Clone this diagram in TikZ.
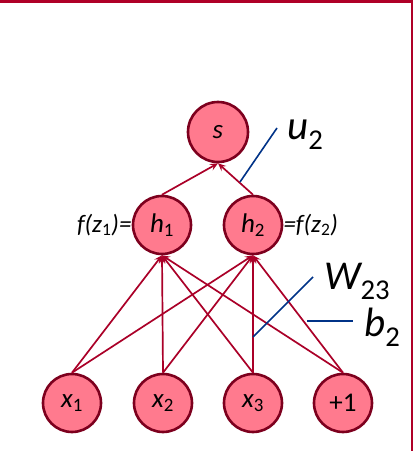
\documentclass[tikz,border=0pt]{standalone}
\usepackage{fontspec}
\setmainfont{Carlito}
\usetikzlibrary{arrows.meta}
\definecolor{nfill}{RGB}{255,122,142}
\definecolor{ndraw}{RGB}{125,0,30}
\definecolor{edgec}{RGB}{170,0,40}
\definecolor{framec}{RGB}{175,0,40}
\definecolor{bluec}{RGB}{0,50,135}
\tikzset{
  neuron/.style={circle, fill=nfill, draw=ndraw, line width=2.6pt, minimum size=58pt, inner sep=0pt, font=\fontsize{27}{29}\selectfont\itshape},
  conn/.style={draw=edgec, line width=1.7pt, -{Stealth[length=8pt,width=7pt,inset=3pt]}},
  pointer/.style={draw=bluec, line width=1.6pt},
  biglabel/.style={anchor=west, inner sep=0pt, font=\fontsize{41}{43}\selectfont\itshape},
  sidelabel/.style={inner sep=0pt, font=\fontsize{25}{27}\selectfont\itshape},
}
\begin{document}
\begin{tikzpicture}[x=1pt,y=1pt]
\useasboundingbox (0,0) rectangle (414,451);
\draw[framec, line width=3pt] (0,449.5) -- (412,449.5);
\draw[framec, line width=2.5pt] (412,451) -- (412,0);
\node[neuron, minimum size=60pt] (s) at (218,319) {s};
\node[neuron] (h1) at (162,226) {h$_{\mathrm{1}}$};
\node[neuron] (h2) at (253,226) {h$_{\mathrm{2}}$};
\node[neuron] (x1) at (72,48) {x$_{\mathrm{1}}$};
\node[neuron] (x2) at (163,48) {x$_{\mathrm{2}}$};
\node[neuron] (x3) at (253,48) {x$_{\mathrm{3}}$};
\node[neuron, font=\fontsize{27}{29}\selectfont] (p1) at (343,48) {+1};
\foreach \src in {x1,x2,x3,p1}{
  \draw[conn] (\src.north) -- (h1.south);
  \draw[conn] (\src.north) -- (h2.south);
}
\draw[conn] (h1.north) -- (s.south);
\draw[conn] (h2.north) -- (s.south);
\coordinate (u2a) at (240,269);
\coordinate (u2b) at (277,323);
\coordinate (wa) at (253,114);
\coordinate (wb) at (313,174);
\coordinate (ba) at (307,130);
\coordinate (bb) at (353,130);
\draw[pointer] (u2a) -- (u2b);
\draw[pointer] (wa) -- (wb);
\draw[pointer] (ba) -- (bb);
\node[biglabel] (lu) at (287,316) {u\textsubscript{\upshape 2}};
\node[biglabel] (lw) at (324,170) {W\textsubscript{\upshape 23}};
\node[biglabel] (lb) at (364,124) {b\textsubscript{\upshape 2}};
\node[sidelabel, anchor=east] (f1) at (h1.west) {f(z$_{\mathrm{1}}$)=};
\node[sidelabel, anchor=west] (f2) at (h2.east) {=f(z$_{\mathrm{2}}$)};
\end{tikzpicture}
\end{document}
